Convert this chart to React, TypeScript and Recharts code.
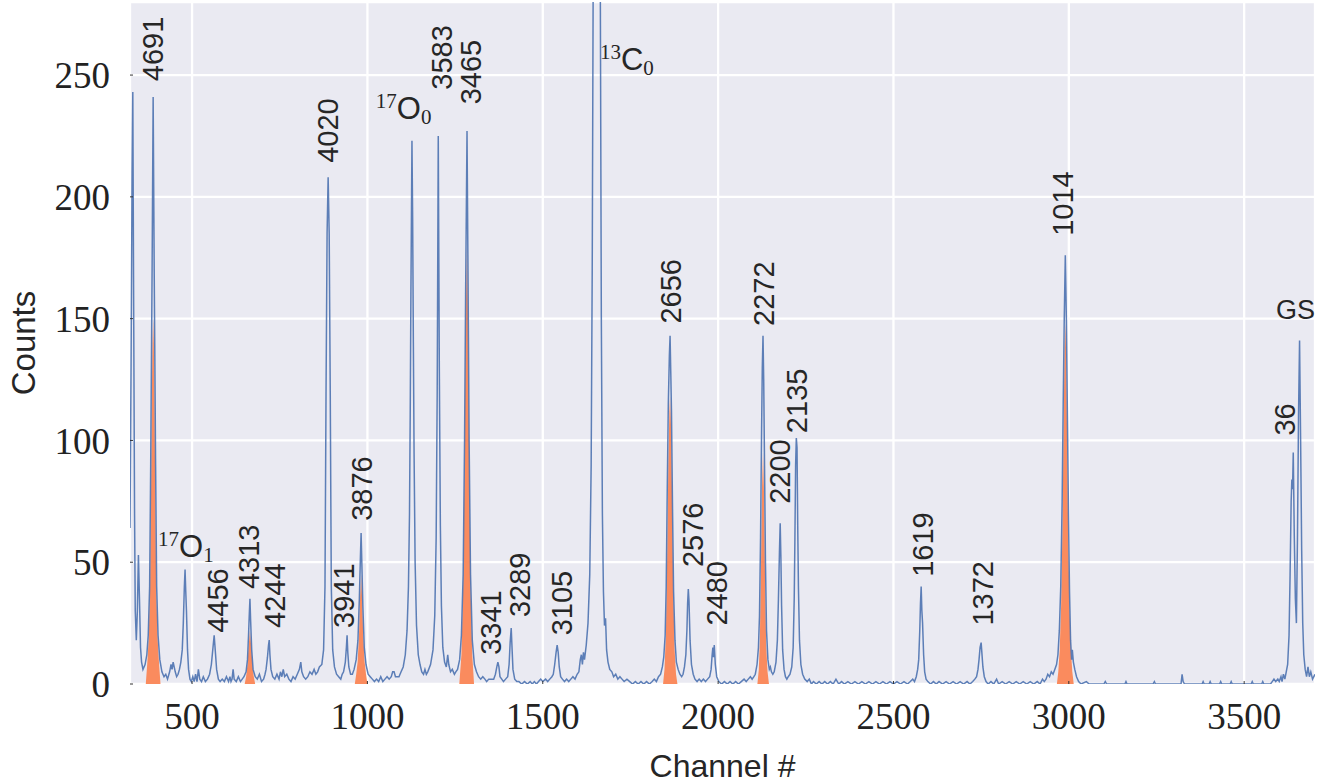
import { ComposedChart, Line, Area, Scatter, XAxis, YAxis, CartesianGrid, Label } from 'recharts'

type Pt = [number, number]

// spectrum, [channel, counts]
const spectrumLow: Pt[] = [
  [323, 64], [326, 130], [329, 210], [331, 243], [333, 170], [336, 70], [338, 30], [341, 18], [344, 30], [347, 53],
  [350, 35], [353, 15], [356, 9], [360, 6], [366, 8], [371, 12], [375, 20], [379, 40], [382, 90], [384, 130],
  [386, 170], [389, 241], [392, 170], [394, 130], [396, 90], [399, 40], [403, 20], [408, 10], [414, 5], [420, 3],
  [425, 4], [430, 2], [436, 5], [440, 8], [443, 6], [446, 9], [449, 7], [452, 5], [456, 3], [460, 4],
  [464, 6], [468, 9], [472, 14], [475, 25], [478, 40], [480, 47], [482, 38], [484, 30], [487, 14], [490, 6],
  [494, 2], [498, 1], [502, 3], [506, 1], [510, 4], [514, 1], [518, 6], [522, 2], [527, 1], [532, 3],
  [538, 1], [544, 2], [550, 4], [555, 8], [559, 14], [563, 20], [566, 14], [570, 6], [575, 2], [580, 1],
  [586, 2], [592, 1], [598, 3], [604, 1], [608, 3], [611, 1], [614, 2], [617, 6], [620, 2], [626, 1],
  [632, 3], [638, 1], [643, 2], [648, 3], [654, 5], [658, 10], [661, 20], [663, 28], [665, 35], [667, 26],
  [670, 14], [674, 6], [680, 3], [686, 2], [692, 4], [698, 1],
]

const spectrumMid: Pt[] = [
  [704, 2], [708, 4], [711, 6], [715, 11], [718, 16], [720, 18], [722, 12], [725, 6], [730, 3], [736, 2],
  [742, 4], [748, 2], [752, 5], [756, 3], [760, 6], [764, 3], [770, 4], [776, 2], [782, 1], [788, 3],
  [794, 2], [800, 4], [806, 6], [810, 9], [813, 5], [818, 3], [824, 2], [830, 3], [836, 5], [842, 4],
  [848, 6], [853, 4], [858, 5], [863, 7], [870, 8], [875, 14], [879, 40], [882, 120], [885, 185], [888, 208],
  [891, 185], [894, 120], [897, 40], [901, 14], [906, 7], [912, 4], [918, 3], [924, 2], [928, 4], [932, 5],
  [937, 9], [940, 15], [942, 20], [944, 13], [947, 7], [952, 4], [957, 4], [962, 6], [968, 10], [973, 18],
  [977, 35], [980, 52], [982, 62], [984, 50], [987, 32], [991, 15], [996, 8], [1002, 4], [1008, 3], [1014, 2],
  [1020, 1], [1026, 2], [1032, 1], [1038, 3], [1044, 1], [1050, 2], [1056, 3], [1062, 2], [1068, 3], [1072, 5],
  [1076, 5], [1080, 3], [1085, 3], [1090, 3], [1096, 5], [1102, 7], [1108, 12], [1113, 22], [1117, 40], [1120, 70],
  [1122, 110], [1124, 160], [1127, 223], [1129, 190], [1131, 140], [1133, 95], [1136, 50], [1140, 24], [1145, 12], [1150, 8],
  [1155, 5], [1160, 4], [1164, 6], [1168, 4], [1172, 5], [1180, 8], [1187, 14], [1192, 28], [1196, 60], [1199, 120],
  [1202, 225], [1205, 130], [1208, 65], [1211, 32], [1215, 15], [1220, 9], [1225, 7], [1229, 12], [1232, 8], [1237, 5],
  [1242, 6], [1248, 4], [1252, 5], [1257, 6], [1263, 10], [1268, 20], [1273, 45], [1277, 100], [1280, 160], [1284, 227],
  [1287, 165], [1290, 100], [1294, 45], [1299, 18], [1305, 8], [1311, 5], [1317, 3], [1323, 2], [1329, 3],
]

const spectrumUpper: Pt[] = [
  [1335, 2], [1340, 1], [1346, 2], [1352, 2], [1360, 2], [1365, 4], [1369, 7], [1372, 9], [1375, 7], [1378, 3],
  [1383, 2], [1388, 1], [1394, 2], [1400, 3], [1404, 8], [1407, 17], [1410, 23], [1412, 16], [1415, 6], [1420, 2],
  [1426, 1], [1432, 1], [1440, 0], [1448, 1], [1456, 0], [1464, 1], [1470, 0], [1476, 1], [1482, 0], [1488, 1],
  [1494, 2], [1500, 1], [1508, 2], [1514, 1], [1520, 2], [1526, 3], [1530, 4], [1534, 8], [1538, 13], [1541, 16],
  [1544, 13], [1547, 7], [1551, 3], [1556, 2], [1562, 1], [1568, 2], [1574, 1], [1580, 2], [1586, 3], [1592, 2],
  [1598, 4], [1603, 5], [1607, 10], [1610, 12], [1613, 8], [1616, 13], [1619, 10], [1624, 16], [1629, 25], [1634, 45],
  [1638, 90], [1641, 170], [1644, 300], [1648, 550], [1652, 800], [1654, 850], [1657, 780], [1661, 520], [1664, 290], [1667, 150],
  [1670, 70], [1673, 38], [1676, 24], [1679, 27], [1682, 14], [1686, 9], [1691, 6], [1697, 5], [1702, 3], [1708, 4],
  [1714, 2], [1720, 3], [1726, 2], [1732, 1], [1740, 2], [1748, 1], [1756, 0], [1764, 1], [1772, 0], [1780, 1],
  [1788, 0], [1796, 1], [1804, 0], [1812, 1], [1818, 2], [1824, 1], [1830, 3], [1836, 4], [1841, 7], [1845, 11],
  [1849, 20], [1852, 40], [1855, 80], [1858, 115], [1861, 135], [1863, 143], [1865, 128], [1867, 112], [1870, 72], [1873, 38],
  [1877, 18], [1881, 9], [1886, 6], [1891, 4], [1896, 3], [1900, 4], [1904, 7], [1908, 12], [1911, 22], [1913, 33],
  [1915, 39], [1917, 34], [1920, 18], [1924, 8], [1929, 4], [1934, 2], [1940, 1], [1946, 2], [1952, 1], [1958, 2],
  [1964, 1], [1970, 2], [1976, 3], [1980, 6], [1983, 12], [1985, 15], [1987, 11], [1989, 16], [1992, 8], [1996, 3],
]

const spectrumHigh: Pt[] = [
  [2002, 1], [2010, 0], [2018, 1], [2026, 0], [2034, 1], [2042, 0], [2050, 1], [2058, 0], [2066, 1], [2074, 2],
  [2080, 1], [2086, 2], [2092, 3], [2097, 2], [2102, 3], [2106, 4], [2111, 8], [2115, 15], [2118, 28], [2121, 60],
  [2124, 105], [2126, 130], [2128, 143], [2130, 125], [2132, 95], [2135, 50], [2138, 22], [2142, 10], [2146, 6], [2149, 7],
  [2152, 5], [2156, 4], [2160, 5], [2165, 9], [2169, 18], [2172, 35], [2175, 55], [2177, 66], [2179, 52], [2181, 32],
  [2184, 14], [2188, 6], [2192, 3], [2196, 2], [2200, 3], [2205, 4], [2210, 7], [2214, 15], [2217, 35], [2219, 60],
  [2221, 90], [2223, 101], [2225, 97], [2227, 65], [2229, 40], [2232, 18], [2236, 8], [2241, 4], [2247, 2], [2254, 1],
  [2260, 2], [2266, 0], [2272, 1], [2280, 0], [2288, 1], [2296, 0], [2304, 1], [2312, 0], [2320, 1], [2328, 0],
  [2336, 2], [2344, 0], [2352, 1], [2360, 0], [2370, 1], [2380, 0], [2390, 1], [2400, 0], [2410, 1], [2420, 0],
  [2430, 1], [2440, 0], [2450, 1], [2460, 0], [2470, 1], [2480, 0], [2490, 1], [2500, 0], [2510, 1], [2520, 0],
  [2530, 1], [2540, 0], [2548, 1], [2555, 2], [2560, 1], [2565, 3], [2569, 6], [2572, 10], [2575, 22], [2577, 33],
  [2579, 40], [2581, 30], [2583, 25], [2586, 12], [2589, 5], [2593, 2], [2598, 1], [2606, 0], [2614, 1], [2622, 0],
  [2630, 1], [2640, 0], [2650, 1], [2660, 0], [2670, 1], [2680, 0], [2690, 1], [2700, 0], [2710, 1], [2718, 0],
  [2726, 1], [2732, 2], [2737, 3], [2741, 6], [2744, 10], [2747, 15], [2750, 17], [2752, 13], [2755, 7], [2759, 3],
  [2764, 1],
]

const spectrumTail: Pt[] = [
  [2770, 0], [2778, 1], [2786, 0], [2794, 2], [2800, 0], [2810, 1], [2820, 0], [2830, 1], [2840, 0], [2850, 1],
  [2860, 0], [2870, 1], [2880, 0], [2890, 1], [2900, 0], [2910, 1], [2918, 0], [2925, 2], [2930, 1], [2935, 2],
  [2940, 4], [2945, 3], [2950, 5], [2955, 4], [2960, 6], [2965, 8], [2969, 12], [2973, 22], [2977, 40], [2981, 75],
  [2984, 115], [2987, 150], [2990, 176], [2993, 150], [2996, 110], [2999, 70], [3002, 38], [3005, 18], [3008, 10], [3010, 14],
  [3013, 9], [3017, 6], [3022, 3], [3028, 1], [3035, 0], [3050, 1], [3058, 0], [3100, 0], [3104, 1], [3108, 0],
  [3160, 0], [3163, 1], [3166, 0], [3240, 0], [3244, 1], [3247, 0], [3320, 0], [3323, 4], [3326, 1], [3330, 0],
  [3380, 0], [3383, 1], [3386, 0], [3400, 0], [3403, 1], [3406, 0], [3430, 0], [3433, 1], [3436, 0], [3460, 0],
  [3463, 1], [3466, 0], [3520, 0], [3523, 1], [3526, 0], [3550, 0], [3553, 1], [3556, 0], [3575, 0], [3580, 1],
  [3585, 2], [3590, 1], [3596, 2], [3600, 1], [3605, 3], [3608, 1], [3612, 4], [3616, 2], [3620, 5], [3624, 8],
  [3628, 20], [3631, 45], [3634, 75], [3636, 84], [3638, 80], [3640, 95], [3643, 60], [3646, 35], [3649, 25], [3652, 60],
  [3655, 110], [3658, 141], [3661, 100], [3664, 55], [3667, 25], [3670, 12], [3674, 6], [3678, 3], [3682, 7], [3686, 3],
  [3690, 5], [3695, 2], [3702, 4],
]

// fitted peaks (orange fill)
const fit4691: Pt[] = [[368, 0], [372, 8], [376, 18], [380, 38], [383, 80], [385, 115], [387, 140], [389, 150], [391, 140], [393, 115], [395, 80], [398, 38], [402, 18], [406, 8], [410, 0]]
const fit4313: Pt[] = [[650, 0], [654, 3], [658, 8], [661, 15], [665, 22], [669, 15], [672, 8], [676, 3], [680, 0]]
const fit3876: Pt[] = [[964, 0], [968, 4], [972, 9], [976, 20], [979, 35], [982, 45], [985, 35], [988, 20], [992, 9], [996, 4], [1000, 0]]
const fit3465: Pt[] = [[1262, 0], [1268, 12], [1273, 40], [1277, 95], [1280, 150], [1284, 180], [1287, 150], [1290, 95], [1294, 40], [1299, 12], [1304, 0]]
const fit2656: Pt[] = [[1843, 0], [1847, 6], [1851, 20], [1855, 55], [1858, 90], [1861, 112], [1863, 118], [1866, 105], [1869, 75], [1872, 40], [1876, 14], [1880, 4], [1884, 0]]
const fit2272: Pt[] = [[2112, 0], [2116, 6], [2119, 18], [2122, 45], [2125, 80], [2128, 95], [2131, 78], [2134, 42], [2137, 16], [2141, 5], [2145, 0]]
const fit1014: Pt[] = [[2966, 0], [2970, 5], [2974, 14], [2978, 32], [2982, 65], [2985, 105], [2988, 138], [2990, 148], [2992, 138], [2995, 105], [2998, 65], [3002, 32], [3006, 14], [3010, 5], [3014, 0]]

const spectrumSegments = [spectrumLow, spectrumMid, spectrumUpper, spectrumHigh, spectrumTail]
const fitPeaks = [fit4691, fit4313, fit3876, fit3465, fit2656, fit2272, fit1014]

const xTicks = [500, 1000, 1500, 2000, 2500, 3000, 3500]
const yTicks = [0, 50, 100, 150, 200, 250]

// level energies written above the peaks (channel of label centre, counts at label start)
const levelLabels = [
  { ch: 386, y: 247.5, text: '4691' },
  { ch: 574, y: 21, text: '4456' },
  { ch: 662, y: 39, text: '4313' },
  { ch: 734, y: 23, text: '4244' },
  { ch: 885, y: 214, text: '4020' },
  { ch: 933, y: 23, text: '3941' },
  { ch: 982, y: 67, text: '3876' },
  { ch: 1210, y: 244, text: '3583' },
  { ch: 1295, y: 238, text: '3465' },
  { ch: 1352, y: 12, text: '3341' },
  { ch: 1435, y: 27.5, text: '3289' },
  { ch: 1555, y: 20, text: '3105' },
  { ch: 1863, y: 148, text: '2656' },
  { ch: 1928, y: 48, text: '2576' },
  { ch: 1997, y: 24, text: '2480' },
  { ch: 2131, y: 147, text: '2272' },
  { ch: 2176, y: 74, text: '2200' },
  { ch: 2225, y: 103, text: '2135' },
  { ch: 2584, y: 44, text: '1619' },
  { ch: 2755, y: 24, text: '1372' },
  { ch: 2983, y: 184, text: '1014' },
  { ch: 3616, y: 102, text: '36' },
]

const ionLabels = [
  { ch: 403, y: 52, sup: '17', base: 'O', sub: '1' },
  { ch: 1024, y: 232, sup: '17', base: 'O', sub: '0' },
  { ch: 1663, y: 252, sup: '13', base: 'C', sub: '0' },
  { ch: 3591, y: 150, sup: '', base: 'GS', sub: '' },
]

const SERIF = '"Liberation Serif", "DejaVu Serif", serif'
const SANS = '"Liberation Sans", "DejaVu Sans", sans-serif'
const INK = '#262626'

type Row = { ch: number; counts?: number; fit?: number }

function buildRows(): Row[] {
  const byCh = new Map<number, Row>()
  const get = (ch: number) => {
    let r = byCh.get(ch)
    if (!r) {
      r = { ch }
      byCh.set(ch, r)
    }
    return r
  }
  spectrumSegments.forEach((seg) => seg.forEach(([ch, c]) => { get(ch).counts = c }))
  fitPeaks.forEach((seg) => seg.forEach(([ch, f]) => { get(ch).fit = f }))
  return [...byCh.values()].sort((a, b) => a.ch - b.ch)
}

const rows = buildRows()

const annotations = [
  ...levelLabels.map((l) => ({ ...l, kind: 'level' })),
  ...ionLabels.map((l) => ({ ...l, kind: 'ion' })),
]

function Annotation(props: any) {
  const { cx, cy } = props
  const p = props.payload ?? props
  if (cx == null || cy == null) return null
  if (p.kind === 'level') {
    return (
      <text x={cx} y={cy} dy="0.36em" transform={`rotate(-90 ${cx} ${cy})`} fontFamily={SANS} fontSize={29} fill={INK}>
        {p.text}
      </text>
    )
  }
  if (!p.sup) {
    return (
      <text x={cx} y={cy} fill={INK} fontFamily={SANS} fontSize={27}>
        {p.base}
      </text>
    )
  }
  return (
    <text x={cx} y={cy} fill={INK}>
      <tspan fontFamily={SERIF} fontSize={21} dy={-11}>{p.sup}</tspan>
      <tspan fontFamily={SANS} fontSize={31} dy={11}>{p.base}</tspan>
      <tspan fontFamily={SERIF} fontSize={21} dy={5}>{p.sub}</tspan>
    </text>
  )
}

export default function App() {
  return (
    <div style={{ position: 'absolute', left: 0, top: 0, background: '#fff' }}>
      <ComposedChart width={1335} height={784} data={rows} margin={{ top: 2, right: 20, left: 60, bottom: 0 }}>
        <CartesianGrid stroke="#ffffff" strokeWidth={2.3} fill="#EAEAF2" fillOpacity={1} />
        <XAxis
          dataKey="ch"
          type="number"
          domain={[323, 3702]}
          allowDataOverflow
          ticks={xTicks}
          interval={0}
          height={100}
          axisLine={false}
          tickLine={{ stroke: '#333', strokeWidth: 1 }}
          tickSize={-3}
          tickMargin={22}
          tick={{ fontSize: 37, fill: '#222', fontFamily: SERIF }}
        >
          <Label
            content={({ viewBox }: any) => (
              <text x={viewBox.x + viewBox.width / 2} y={viewBox.y + 93} textAnchor="middle" fontFamily={SANS} fontSize={32} fill={INK}>
                Channel #
              </text>
            )}
          />
        </XAxis>
        <YAxis
          type="number"
          domain={[0, 280]}
          allowDataOverflow
          ticks={yTicks}
          interval={0}
          width={70}
          axisLine={false}
          tickLine={{ stroke: '#333', strokeWidth: 1 }}
          tickSize={-3}
          tickMargin={23}
          tick={{ fontSize: 37, fill: '#222', fontFamily: SERIF }}
        >
          <Label
            content={({ viewBox }: any) => {
              const x = viewBox.x - 25
              const y = viewBox.y + viewBox.height / 2
              return (
                <text x={x} y={y} transform={`rotate(-90 ${x} ${y})`} textAnchor="middle" fontFamily={SANS} fontSize={33} fill={INK}>
                  Counts
                </text>
              )
            }}
          />
        </YAxis>
        <Area
          type="linear"
          dataKey="fit"
          fill="#FA8B5E"
          fillOpacity={1}
          stroke="none"
          connectNulls
          dot={false}
          activeDot={false}
          isAnimationActive={false}
        />
        <Line
          type="linear"
          dataKey="counts"
          stroke="#4C72B0"
          strokeWidth={1.5}
          strokeOpacity={0.9}
          dot={false}
          activeDot={false}
          connectNulls
          isAnimationActive={false}
        />
        <Scatter data={annotations} dataKey="y" shape={Annotation} isAnimationActive={false} />
      </ComposedChart>
    </div>
  )
}
